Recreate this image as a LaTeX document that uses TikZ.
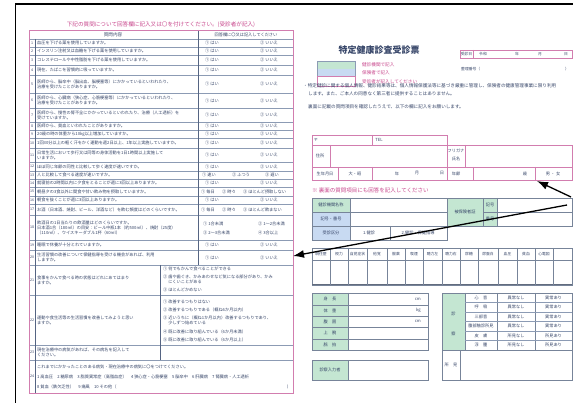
\documentclass[tikz,border=0pt]{standalone}
\usepackage{fontspec}
\newfontfamily\jp{Noto Sans CJK JP}
\usetikzlibrary{arrows.meta}
\definecolor{pinkline}{RGB}{210,125,175}
\definecolor{magtext}{RGB}{200,70,140}
\definecolor{grayline}{RGB}{140,155,180}
\definecolor{darkline}{RGB}{85,100,130}
\definecolor{txt}{RGB}{55,70,105}
\definecolor{greenfill}{RGB}{196,230,210}
\definecolor{bluefill}{RGB}{200,218,242}
\tikzset{
  tx/.style={font=\jp\fontsize{4.2}{5}\selectfont, text=txt, inner sep=0pt},
  txl/.style={tx, anchor=west, align=left},
  txm/.style={font=\jp\fontsize{4.6}{5.4}\selectfont, text=txt, inner sep=0pt},
  txml/.style={txm, anchor=west, align=left},
  txh/.style={font=\jp\fontsize{3.8}{4.4}\selectfont, text=txt, inner sep=0pt},
  mag/.style={font=\jp\fontsize{4.6}{5.4}\selectfont, text=magtext, inner sep=0pt, anchor=west},
  pinkbox/.style={draw=pinkline, line width=0.7pt},
  gline/.style={draw=grayline, line width=0.45pt},
  dline/.style={draw=darkline, line width=0.5pt},
  bline/.style={draw=grayline!85!black, line width=0.5pt},
  ptr/.style={draw=black, line width=1.3pt, -{Latex[length=11pt,width=8pt]}},
}
\begin{document}
\begin{tikzpicture}[x=1pt,y=-1pt]
\useasboundingbox (0,0) rectangle (573,403);
\fill[white] (0,0) rectangle (573,403);
% outer black frame
\draw[black, line width=1.6pt] (15.5,403) -- (15.5,3.8) -- (573,3.8);

% ================= LEFT QUESTIONNAIRE =================
\node[font=\jp\fontsize{5.6}{6.4}\selectfont, text=magtext, inner sep=0pt] (ltitle) at (161,24.5) {下記の質問について回答欄に記入又は〇を付けてください。(受診者が記入)};
\foreach \y in {39,47,55,65,75,93,108,122,130,138,148,162,171,179,187,196,204,215,240,250,265,295,345,360}
  \draw[gline] (29,\y) -- (293,\y);
\draw[dline] (35,39) -- (35,393);
\draw[dline] (198,30) -- (198,265);
\draw[dline] (160,265) -- (160,360);
\draw[pinkbox] (29,30) rectangle (293,393);
\node[txm] (hq) at (113,34.5) {質問内容};
\node[tx] (ha) at (246,34.5) {回答欄に〇又は記入してください};

% numbers
\foreach \n/\y in {1/43,2/51,3/60,4/70,5/84,6/100.5,7/115,8/126,9/134,10/143,11/155,12/166.5,13/175,14/183,15/191.5,16/200,17/209.5,18/227.5,19/245,20/257.5,21/280,22/320,23/352.5,24/376.5}
  \node[font=\jp\fontsize{3.6}{4}\selectfont, text=txt, inner sep=0pt] (n\n) at (32,\y) {\n};

% questions
\node[txl] (q1) at (37,43) {血圧を下げる薬を使用していますか。};
\node[txl] (q2) at (37,51) {インスリン注射又は血糖を下げる薬を使用していますか。};
\node[txl] (q3) at (37,60) {コレステロールや中性脂肪を下げる薬を使用していますか。};
\node[txl] (q4) at (37,70) {現在、たばこを習慣的に吸っていますか。};
\node[txl] (q5) at (37,84) {医師から、脳卒中（脳出血、脳梗塞等）にかかっているといわれたり、\\治療を受けたことがありますか。};
\node[txl] (q6) at (37,100.5) {医師から、心臓病（狭心症、心筋梗塞等）にかかっているといわれたり、\\治療を受けたことがありますか。};
\node[txl] (q7) at (37,115) {医師から、慢性の腎不全にかかっているといわれたり、治療（人工透析）を\\受けていますか。};
\node[txl] (q8) at (37,126) {医師から、貧血といわれたことがありますか。};
\node[txl] (q9) at (37,134) {20歳の時の体重から10kg以上増加していますか。};
\node[txl] (q10) at (37,143) {1回30分以上の軽く汗をかく運動を週2日以上、1年以上実施していますか。};
\node[txl] (q11) at (37,155) {日常生活において歩行又は同等の身体活動を1日1時間以上実施して\\いますか。};
\node[txl] (q12) at (37,166.5) {ほぼ同じ年齢の同性と比較して歩く速度が速いですか。};
\node[txl] (q13) at (37,175) {人と比較して食べる速度が速いですか。};
\node[txl] (q14) at (37,183) {就寝前の2時間以内に夕食をとることが週に3回以上ありますか。};
\node[txl] (q15) at (37,191.5) {朝昼夕の3食以外に間食や甘い飲み物を摂取していますか。};
\node[txl] (q16) at (37,200) {朝食を抜くことが週に3回以上ありますか。};
\node[txl] (q17) at (37,209.5) {お酒（日本酒、焼酎、ビール、洋酒など）を飲む頻度はどのくらいですか。};
\node[txl] (q18) at (37,227.5) {飲酒日の1日当たりの飲酒量はどのくらいですか。\\日本酒1合（180ml）の目安：ビール中瓶1本（約500ml）、焼酎（25度）\\（110ml）、ウイスキーダブル1杯（60ml）};
\node[txl] (q19) at (37,245) {睡眠で休養が十分とれていますか。};
\node[txl] (q20) at (37,257.5) {生活習慣の改善について保健指導を受ける機会があれば、利用\\しますか。};
\node[txl] (q21) at (37,280) {食事をかんで食べる時の状態はどれにあてはまり\\ますか。};
\node[txl] (q22) at (37,320) {運動や食生活等の生活習慣を改善してみようと思い\\ますか。};
\node[txl] (q23) at (37,352.5) {現在治療中の病気があれば、その病名を記入して\\ください。};
\node[txl] (q24a) at (37,367) {これまでにかかったことのある病気・現在治療中の病気に〇をつけてください。};
\node[txl] (q24b) at (37,377) {1 高血圧　2 糖尿病　3 脂質異常症（高脂血症）　4 狭心症・心筋梗塞　5 脳卒中　6 肝臓病　7 腎臓病・人工透析};
\node[txl] (q24c) at (37,387) {8 貧血（鉄欠乏性）　9 痛風　10 その他（};
\node[tx] (q24d) at (289,387) {）};

% yes / no answers
\foreach \n/\y in {1/43,2/51,3/60,4/70,5/84,6/100.5,7/115,8/126,9/134,10/143,11/155,12/166.5,14/183,16/200,19/245,20/257.5} {
  \node[txl] (ya\n) at (205,\y) {① はい};
  \node[txl] (yb\n) at (260,\y) {② いいえ};
}
\node[txl] (a13a) at (202,175) {① 速い};
\node[txl] (a13b) at (232,175) {② ふつう};
\node[txl] (a13c) at (265,175) {③ 遅い};
\node[txl] (a15a) at (201,191.5) {① 毎日};
\node[txl] (a15b) at (222,191.5) {② 時々};
\node[txl] (a15c) at (243,191.5) {③ ほとんど摂取しない};
\node[txl] (a17a) at (201,209.5) {① 毎日};
\node[txl] (a17b) at (222,209.5) {② 時々};
\node[txl] (a17c) at (243,209.5) {③ ほとんど飲まない};
\node[txl] (a18a) at (203,224) {① 1合未満};
\node[txl] (a18b) at (258,224) {② 1～2合未満};
\node[txl] (a18c) at (203,233) {③ 2～3合未満};
\node[txl] (a18d) at (258,233) {④ 3合以上};
\node[txl] (a21a) at (163,268.5) {① 何でもかんで食べることができる};
\node[txl] (a21b) at (163,279) {② 歯や歯ぐき、かみあわせなど気になる部分があり、かみ\\　 にくいことがある};
\node[txl] (a21c) at (163,290) {③ ほとんどかめない};
\node[txl] (a22a) at (163,302) {① 改善するつもりはない};
\node[txl] (a22b) at (163,310) {② 改善するつもりである（概ね6か月以内）};
\node[txl] (a22c) at (163,320.5) {③ 近いうちに（概ね1か月以内）改善するつもりであり、\\　 少しずつ始めている};
\node[txl] (a22d) at (163,332) {④ 既に改善に取り組んでいる（6か月未満）};
\node[txl] (a22e) at (163,340) {⑤ 既に改善に取り組んでいる（6か月以上）};

% ================= RIGHT FORM =================
\node[font=\jp\bfseries\fontsize{9}{10}\selectfont, text=txt, inner sep=0pt] (rtitle) at (379,50) {特定健康診査受診票};
% date box
\draw[pinkbox] (460,50) rectangle (572,58.5);
\draw[pinkbox] (473,50) -- (473,58.5);
\node[txh] (dlab) at (466.5,54.2) {受診日};
\node[txh] (dre) at (483,54.2) {令和};
\node[txh] (dy) at (517,54.2) {年};
\node[txh] (dm) at (540,54.2) {月};
\node[txh] (dd) at (566,54.2) {日};
% legend
\fill[greenfill] (317,61) rectangle (355,69);
\fill[bluefill] (317,69) rectangle (355,76.5);
\draw[gline] (317,61) rectangle (355,76.5);
\draw[pinkbox] (317,76.5) rectangle (355,86);
\node[mag] (lg1) at (362,65) {健診機関で記入};
\node[mag] (lg2) at (362,73) {保険者で記入};
\node[mag] (lg3) at (362,81.5) {受診者が記入してください};
\node[txh, anchor=west] (num1) at (461,69) {整理番号（};
\node[txh] (num2) at (567,69) {）};
% notes
\node[txml] (p1) at (303,85.5) {・特定健診に関する個人情報、健診結果等は、個人情報保護法等に基づき厳重に管理し、保険者の健康管理事業に限り利用};
\node[txml] (p2) at (308,93.5) {します。また、ご本人の同意なく第三者に提供することはありません。};
\node[txml] (p3) at (308,107) {裏面に記載の質問項目を確認したうえで、以下の欄に記入をお願いします。};

% personal info (pink)
\draw[pinkbox] (312,135) rectangle (447,180);
\draw[pinkbox] (312,145) -- (447,145);
\draw[pinkbox] (312,167) -- (447,167);
\draw[pinkbox] (372,135) -- (372,145);
\draw[pinkbox] (330,145) -- (330,167);
\draw[pinkbox] (338,167) -- (338,180);
\draw[pinkbox] (372,167) -- (372,180);
\draw[pinkbox] (447,145) rectangle (572,180);
\draw[pinkbox] (447,167) -- (572,167);
\draw[pinkbox] (465,145) -- (465,167);
\draw[pinkbox] (473,167) -- (473,180);
\draw[pinkbox] (535,167) -- (535,180);
\node[tx] (pz) at (316,140) {〒};
\node[tx] (ptel) at (379,140) {TEL};
\node[tx] (padr) at (320,156) {住所};
\node[tx] (pbd) at (325,173.5) {生年月日};
\node[tx] (pera) at (355,173.5) {大・昭};
\node[tx] (pyr) at (397,173.5) {年};
\node[tx] (pmo) at (417,173.5) {月};
\node[tx] (pdy) at (442,173.5) {日};
\node[tx] (pkana) at (456,150.5) {フリガナ};
\node[tx] (pname) at (456,158.5) {氏名};
\node[tx] (page) at (456,173.5) {年齢};
\node[tx] (pagu) at (525,173.5) {歳};
\node[tx] (psex) at (553,173.5) {男 ・ 女};

\node[font=\jp\fontsize{5.5}{6}\selectfont, text=magtext, inner sep=0pt, anchor=west] (note) at (312,190) {※ 裏面の質問項目にも回答を記入してください};

% institution boxes
\fill[greenfill] (312,198) rectangle (350,212);
\fill[bluefill] (312,212) rectangle (350,240);
\draw[bline] (312,198) rectangle (447,240);
\draw[bline] (312,212) -- (447,212);
\draw[bline] (312,226) -- (447,226);
\draw[bline] (350,198) -- (350,240);
\draw[bline] (390,226) -- (390,240);
\node[tx] (i1) at (331,205) {健診機関名称};
\node[tx] (i2) at (331,219) {記号・番号};
\node[tx] (i3) at (331,233) {受診区分};
\node[tx] (i4) at (369,233) {1.健診};
\node[tx] (i5) at (418,233) {2.健診・保健指導};
\fill[greenfill] (447,198) rectangle (497,226);
\draw[bline] (447,198) rectangle (572,226);
\draw[bline] (483,212) -- (572,212);
\draw[bline] (483,198) -- (483,226);
\draw[bline] (497,198) -- (497,226);
\node[tx] (k1) at (465,212) {被保険者証};
\node[tx] (k2) at (490,205) {記号};
\node[tx] (k3) at (490,219) {番号};

% measurement table
\draw[bline] (312,248) rectangle (572,285);
\draw[bline] (312,260) -- (572,260);
\draw[draw=grayline!70!black, line width=1pt] (312,285) -- (572,285);
\foreach \x in {330,348,367,387,405,423,442,460,478,498,517,535,553}
  \draw[bline] (\x,248) -- (\x,285);
\foreach \c/\l in {321/既往歴,339/視力,357.5/自覚症状,377/他覚,396/服薬,414/喫煙,432.5/聴力左,451/聴力右,469/尿糖,488/尿蛋白,507.5/血圧,526/貧血,544/心電図}
  \node[txh] (m\c) at (\c,254) {\l};

% body measurement box
\fill[greenfill] (312,293) rectangle (348,350);
\draw[bline] (312,293) rectangle (428,350);
\foreach \y in {305,316,327,339} \draw[bline] (312,\y) -- (428,\y);
\draw[bline] (348,293) -- (348,350);
\foreach \y/\l/\u in {299/身　長/cm,310.5/体　重/kg,321.5/腹　囲/cm,333/上　腕/,344.5/脈　拍/} {
  \node[tx] (b\y) at (330,\y) {\l};
  \node[tx, anchor=east] (u\y) at (421,\y) {\u};
}
\fill[greenfill] (312,360) rectangle (348,380);
\draw[bline] (312,360) rectangle (428,380);
\draw[bline] (348,360) -- (348,380);
\node[tx] (ent) at (330,370) {診察入力者};

% clinical exam box
\fill[greenfill] (442,293) rectangle (465,350);
\draw[bline] (442,293) rectangle (572,380);
\draw[bline] (465,293) -- (465,350);
\draw[bline] (442,350) -- (572,350);
\draw[bline] (460,350) -- (460,380);
\draw[bline] (497,293) -- (497,350);
\draw[bline] (535,293) -- (535,350);
\foreach \y in {302.5,312,321.5,331,340.5} \draw[gline] (465,\y) -- (572,\y);
\node[tx] (e1) at (453.5,314) {診};
\node[tx] (e2) at (453.5,334) {察};
\foreach \y/\l/\a/\b in {297.8/心　音/異常なし/異常あり,307.3/呼　吸/異常なし/異常あり,316.8/三部音/異常なし/異常あり,326.3/腹部触診所見/異常なし/異常あり,335.8/皮　膚/所見なし/所見あり,345.3/浮　腫/所見なし/所見あり} {
  \node[tx] (c\y) at (481,\y) {\l};
  \node[tx] (v\y) at (516,\y) {\a};
  \node[tx] (w\y) at (553.5,\y) {\b};
}
\node[tx] (fin) at (451,365) {所　見};

% arrows
\coordinate (s1) at (571,197);
\coordinate (t1) at (537,181);
\coordinate (s2) at (567,205);
\coordinate (t2) at (293,256);
\draw[ptr] (s1) -- (t1);
\draw[ptr] (s2) -- (t2);
\end{tikzpicture}
\end{document}
